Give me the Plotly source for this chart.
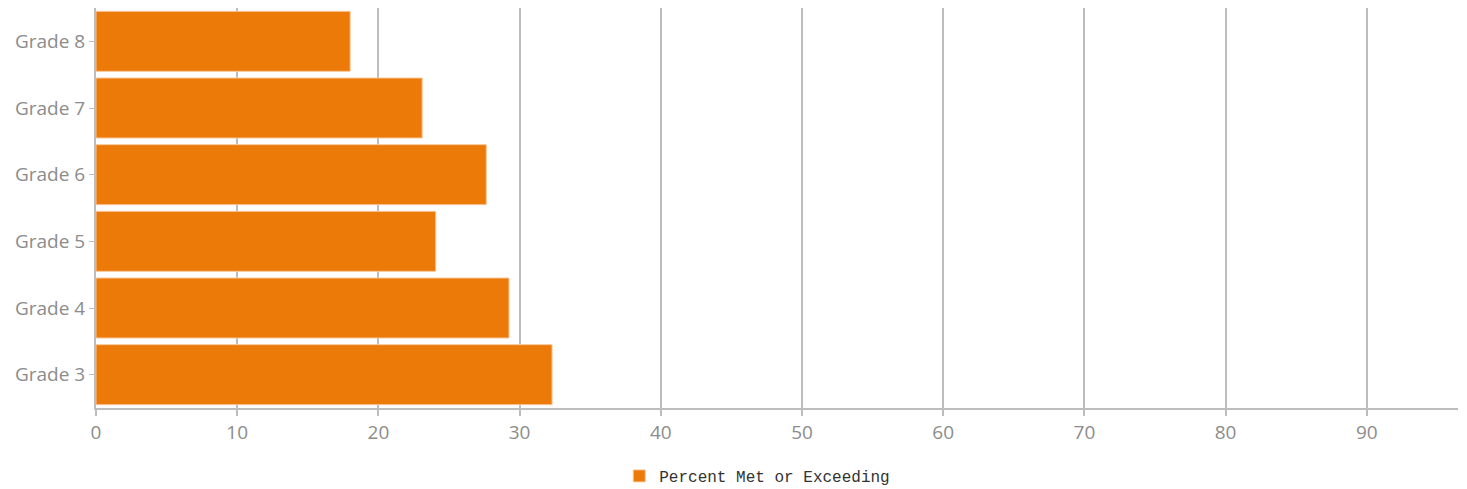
import plotly.graph_objects as go

categories = ["Grade 3", "Grade 4", "Grade 5", "Grade 6", "Grade 7", "Grade 8"]
values = [32.3, 29.25, 24.06, 27.64, 23.1, 18.0]
series_name = "Percent Met or Exceeding"
x_ticks = [0, 10, 20, 30, 40, 50, 60, 70, 80, 90]

fig = go.Figure()
fig.add_trace(go.Bar(
    y=categories, x=values, orientation="h", name=series_name,
    marker=dict(color="#EB7A09", line=dict(color="#F7C79A", width=1)),
    showlegend=True,
))

grid = "#BDBDBD"
fig.update_layout(
    width=1467, height=489,
    margin=dict(l=96, r=9, t=8, b=81, autoexpand=False),
    paper_bgcolor="white", plot_bgcolor="white",
    bargap=0.1,
    font=dict(family="Open Sans, Noto Sans, sans-serif", color="#8C8C8C", size=19),
    xaxis=dict(range=[0, 96.46], tickvals=x_ticks, showgrid=True, gridcolor=grid, gridwidth=2,
               showline=True, linecolor=grid, linewidth=2, ticks="outside", ticklen=6,
               tickcolor=grid, tickwidth=2, zeroline=False,
               tickfont=dict(size=19, color="#8C8C8C")),
    yaxis=dict(categoryorder="array", categoryarray=categories, showgrid=False,
               showline=True, linecolor=grid, linewidth=2, ticks="outside", ticklen=5,
               tickcolor=grid, tickwidth=1, zeroline=False,
               tickfont=dict(size=19, color="#8C8C8C")),
    legend=dict(orientation="h", x=0.4855, xanchor="center", y=-0.17, yanchor="middle",
                font=dict(family="Liberation Mono, DejaVu Sans Mono, monospace", size=16, color="#333333"),
                itemwidth=30),
)

fig.write_html("out.html")
